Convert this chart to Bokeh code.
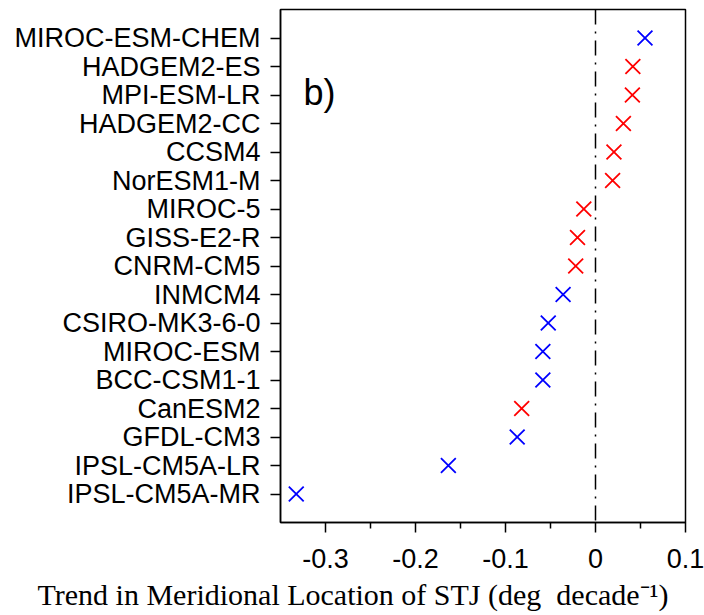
from bokeh.plotting import figure
from bokeh.models import FixedTicker, Range1d, Span, Label, Title
from bokeh.embed import file_html
from bokeh.resources import INLINE

# CMIP5 models, top to bottom
models = [
    "MIROC-ESM-CHEM", "HADGEM2-ES", "MPI-ESM-LR", "HADGEM2-CC", "CCSM4",
    "NorESM1-M", "MIROC-5", "GISS-E2-R", "CNRM-CM5", "INMCM4",
    "CSIRO-MK3-6-0", "MIROC-ESM", "BCC-CSM1-1", "CanESM2", "GFDL-CM3",
    "IPSL-CM5A-LR", "IPSL-CM5A-MR",
]
# STJ latitude trend (deg per decade)
trends = [
    0.055, 0.0415, 0.041, 0.031, 0.0205,
    0.019, -0.013, -0.020, -0.022, -0.036,
    -0.0525, -0.0585, -0.0585, -0.082, -0.087,
    -0.1635, -0.3325,
]
# red / blue group of each model
groups = [
    "blue", "red", "red", "red", "red",
    "red", "red", "red", "red", "blue",
    "blue", "blue", "blue", "red", "blue",
    "blue", "blue",
]
group_colors = {"red": "#FF0000", "blue": "#0000FF"}

xticks = [-0.3, -0.2, -0.1, 0.0, 0.1]
xtick_labels = ["-0.3", "-0.2", "-0.1", "0", "0.1"]
xminor = [-0.25, -0.15, -0.05, 0.05]
x_title = "Trend in Meridional Location of STJ (deg\u00a0\u00a0decade\u207b\u00b9)"

n = len(models)
ypos = [n - i for i in range(n)]
colors = [group_colors[g] for g in groups]

p = figure(
    width=704, height=615,
    output_backend="svg", toolbar_location=None,
    x_range=Range1d(-0.35, 0.1), y_range=Range1d(0, n + 1),
    min_border_left=280, min_border_right=19,
    min_border_top=9, min_border_bottom=92,
)
p.background_fill_color = "white"
p.border_fill_color = "white"
p.outline_line_color = "black"
p.outline_line_width = 1.5
p.xgrid.visible = False
p.ygrid.visible = False

# zero line
p.add_layout(Span(location=0, dimension="height", line_color="black",
                  line_width=1.5, line_dash="15 7 2 7"))

p.scatter(trends, ypos, marker="x", size=21, line_width=1.8,
          line_color=colors)

p.add_layout(Label(x=-0.3245, y=15.1, text="b)", text_font="Liberation Sans",
                   text_font_size="36px", text_color="black",
                   text_baseline="alphabetic"))

# x axis
xa = p.xaxis[0]
xa.ticker = FixedTicker(ticks=xticks, minor_ticks=xminor)
xa.major_label_overrides = {t: s for t, s in zip(xticks, xtick_labels)}
xa.major_label_text_font = "Liberation Sans"
xa.major_label_text_font_size = "27px"
xa.major_label_text_color = "black"
xa.major_label_standoff = 16
xa.major_tick_in = 0
xa.major_tick_out = 10
xa.minor_tick_in = 0
xa.minor_tick_out = 6
xa.major_tick_line_width = 1.5
xa.minor_tick_line_width = 1.5
xa.axis_line_width = 1.5

# x-axis title, shifted left so it sits under the whole figure
p.add_layout(Title(text=x_title, align="left", offset=-243, standoff=10,
                   text_font="Liberation Serif", text_font_size="30px",
                   text_font_style="normal", text_color="black"), "below")

# y axis: model names
ya = p.yaxis[0]
ya.ticker = FixedTicker(ticks=ypos)
ya.major_label_overrides = {y: m for y, m in zip(ypos, models)}
ya.major_label_text_font = "Liberation Sans"
ya.major_label_text_font_size = "27px"
ya.major_label_text_color = "black"
ya.major_label_standoff = 10
ya.major_tick_in = 0
ya.major_tick_out = 10
ya.minor_tick_line_color = None
ya.major_tick_line_width = 1.5
ya.axis_line_width = 1.5

open("out.html", "w").write(file_html(p, INLINE))
